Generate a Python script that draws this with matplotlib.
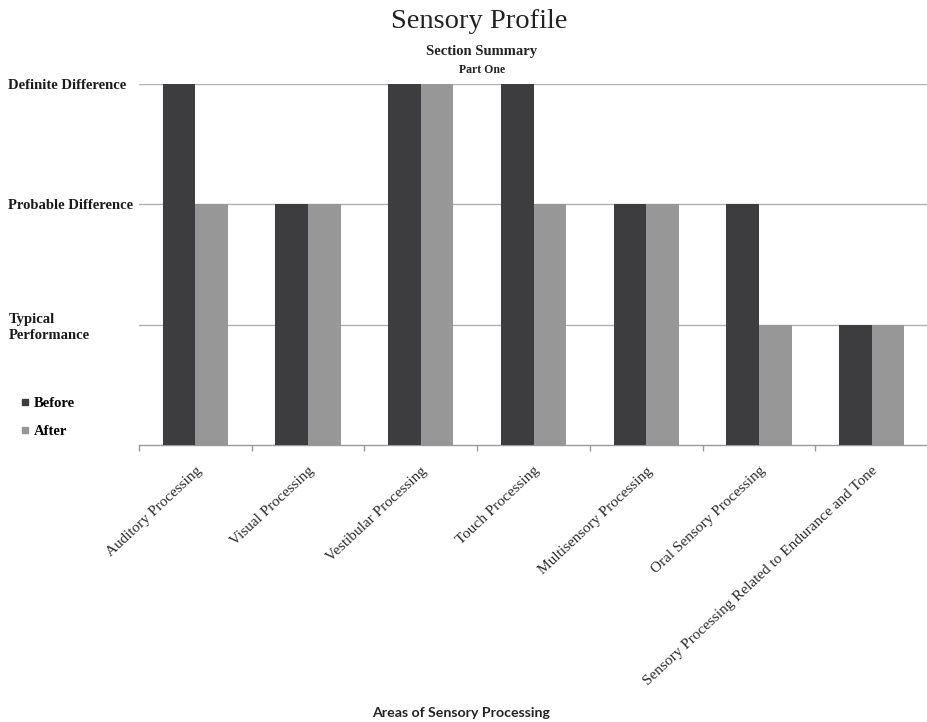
import numpy as np
import matplotlib.pyplot as plt
from matplotlib.lines import Line2D

# Section summary scores: 0 = baseline, 1 = typical, 2 = probable, 3 = definite
areas = [
    "Auditory Processing",
    "Visual Processing",
    "Vestibular Processing",
    "Touch Processing",
    "Multisensory Processing",
    "Oral Sensory Processing",
    "Sensory Processing Related to Endurance and Tone",
]
before = [3, 2, 3, 3, 2, 2, 1]
after = [2, 2, 3, 2, 2, 1, 1]
level_labels = ["Typical\nPerformance", "Probable Difference", "Definite Difference"]

dark = "#3d3d3f"
light = "#979797"
serif = ["Liberation Serif", "DejaVu Serif"]

fig = plt.figure(figsize=(9.28, 7.22), dpi=100)
ax = fig.add_axes([0.1498, 0.3837, 0.8502, 0.5])

x = np.arange(len(areas))
w = 0.29
ax.bar(x - w / 2, before, w, color=dark, zorder=3)
ax.bar(x + w / 2, after, w, color=light, zorder=3)

ax.set_xlim(-0.5, len(areas) - 0.5)
ax.set_ylim(0, 3)

# horizontal gridlines at each level
ax.set_yticks([1, 2, 3])
ax.set_yticklabels(level_labels, family=serif, fontsize=10.5, fontweight="bold",
                   ha="left", linespacing=1.3, color="#1a1a1a")
ax.tick_params(axis="y", length=0, pad=94)
ax.yaxis.grid(True, color="#b0b0b0", lw=1.0, zorder=0)

# category labels + boundary ticks
ax.set_xticks(x)
ax.set_xticklabels(areas, family=serif, fontsize=11, rotation=43,
                   ha="right", va="top", rotation_mode="anchor", color="#2a2a2a")
ax.tick_params(axis="x", which="major", length=0, pad=14)
ax.set_xticks(np.arange(len(areas) + 1) - 0.5, minor=True)
ax.tick_params(axis="x", which="minor", length=4, color="#9a9a9a", width=1)

for s in ["top", "right", "left"]:
    ax.spines[s].set_visible(False)
ax.spines["bottom"].set_color("#9a9a9a")
ax.spines["bottom"].set_linewidth(1.0)

fig.text(0.516, 0.970, "Sensory Profile", family=serif, fontsize=20.5,
         ha="center", va="center", color="#222222")
fig.text(0.519, 0.928, "Section Summary", family=serif, fontsize=10.5,
         fontweight="bold", ha="center", va="center", color="#222222")
fig.text(0.519, 0.903, "Part One", family=serif, fontsize=8.5,
         fontweight="bold", ha="center", va="center", color="#222222")
fig.text(0.497, 0.013, "Areas of Sensory Processing", family=["Lato", "DejaVu Sans"],
         fontsize=10.2, fontweight="bold", ha="center", va="center", color="#222222")

handles = [
    Line2D([], [], marker="s", ls="none", color=dark, markersize=5),
    Line2D([], [], marker="s", ls="none", color=light, markersize=5),
]
fig.legend(handles, ["Before", "After"], loc="upper left",
           bbox_to_anchor=(0.005, 0.468), frameon=False, handletextpad=0.1,
           handlelength=1.0, labelspacing=1.0,
           prop={"family": serif, "size": 10.5, "weight": "bold"})

fig.savefig("out.png", dpi=100)
